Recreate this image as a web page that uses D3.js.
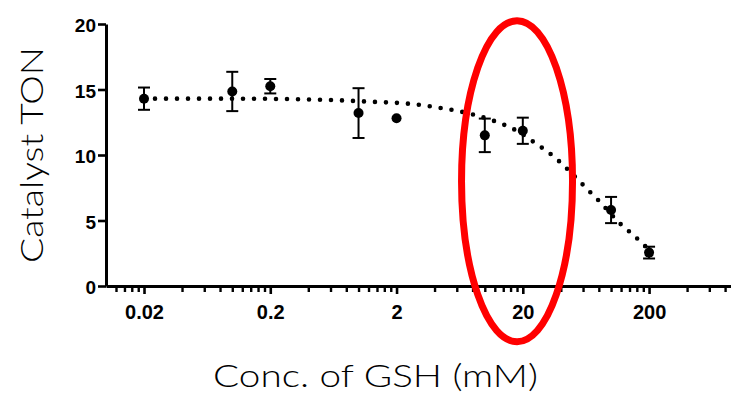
<!DOCTYPE html>
<html>
<head>
<meta charset="utf-8">
<script src="https://cdn.jsdelivr.net/npm/d3@7"></script>
<style>
  body { margin: 0; background: #fff; }
  svg { display: block; }
</style>
</head>
<body>
<div id="chart"></div>
<script>
// measured points
var conc = [0.02, 0.1, 0.2, 1, 2, 10, 20, 100, 200];
var ton = [14.3, 14.85, 15.25, 13.2, 12.8, 11.5, 11.85, 5.8, 2.55];
var err = [0.85, 1.5, 0.55, 1.9, 0, 1.28, 1.0, 1.0, 0.45];

// fitted curve
var fitConc = [0.02, 0.1, 0.5, 1.3, 2.4, 4.4, 8.1, 12, 18, 25, 36, 49, 67, 78, 122, 146, 175, 200];
var fitTon = [14.3, 14.3, 14.22, 14.06, 13.93, 13.6, 13.09, 12.58, 11.84, 10.92, 9.8, 8.58, 7.25, 6.62, 4.63, 3.99, 3.3, 2.75];

var xTicks = [0.02, 0.2, 2, 20, 200];
var xTickLabels = ["0.02", "0.2", "2", "20", "200"];
var yTicks = [0, 5, 10, 15, 20];

var W = 731, H = 394;

var svg = d3.select("#chart").append("svg")
  .attr("width", W)
  .attr("height", H);

var x = d3.scaleLog().domain([0.01, 891]).range([106, 731]);
var y = d3.scaleLinear().domain([0, 20]).range([286, 24]);

// minor ticks at 2,4,6,8... of each decade
var minor = [];
[0.002, 0.02, 0.2, 2, 20, 200].forEach(function(b) {
  for (var k = 1; k <= 9; k++) {
    var v = b * k;
    if (v > 0.0100001 && v < 891 && xTicks.indexOf(+v.toPrecision(6)) < 0) minor.push(v);
  }
});

svg.append("g")
  .attr("transform", "translate(0,286)")
  .call(d3.axisBottom(x).tickValues(minor).tickSize(6).tickSizeOuter(0).tickFormat(""))
  .call(function(g) {
    g.select(".domain").remove();
    g.selectAll("line").attr("stroke", "#000").attr("stroke-width", 2.4);
  });

var xAxis = svg.append("g")
  .attr("transform", "translate(0,286)")
  .call(d3.axisBottom(x).tickValues(xTicks).tickSize(8).tickSizeOuter(0)
    .tickFormat(function(d, i) { return xTickLabels[i]; }));
xAxis.select(".domain").attr("stroke", "#000").attr("stroke-width", 3);
xAxis.selectAll("line").attr("stroke", "#000").attr("stroke-width", 2.6);
xAxis.selectAll("text")
  .attr("y", 33).attr("dy", null)
  .attr("fill", "#000")
  .style("font-family", "'Liberation Sans', Arial, sans-serif")
  .style("font-weight", "bold")
  .style("font-size", "20px");

var yAxis = svg.append("g")
  .attr("transform", "translate(106,0)")
  .call(d3.axisLeft(y).tickValues(yTicks).tickSize(8).tickPadding(2).tickSizeOuter(0));
yAxis.select(".domain").attr("stroke", "#000").attr("stroke-width", 3);
yAxis.selectAll("line").attr("stroke", "#000").attr("stroke-width", 2.6);
yAxis.selectAll("text")
  .attr("dy", "0.42em")
  .attr("fill", "#000")
  .style("font-family", "'Liberation Sans', Arial, sans-serif")
  .style("font-weight", "bold")
  .style("font-size", "19px");

// dotted fit line
var fit = fitConc.map(function(c, i) { return [c, fitTon[i]]; });
svg.append("path")
  .datum(fit)
  .attr("fill", "none")
  .attr("stroke", "#000")
  .attr("stroke-width", 4.6)
  .attr("stroke-linecap", "round")
  .attr("stroke-dasharray", "0 11")
  .attr("d", d3.line()
    .x(function(d) { return x(d[0]); })
    .y(function(d) { return y(d[1]); })
    .curve(d3.curveMonotoneX));

// error bars + points
var pts = conc.map(function(c, i) { return { c: c, t: ton[i], e: err[i] }; });
var eb = svg.append("g").attr("stroke", "#000").attr("stroke-width", 2);
pts.filter(function(d) { return d.e > 0; }).forEach(function(d) {
  var cx = x(d.c);
  eb.append("line").attr("x1", cx).attr("x2", cx).attr("y1", y(d.t - d.e)).attr("y2", y(d.t + d.e));
  eb.append("line").attr("x1", cx - 6).attr("x2", cx + 6).attr("y1", y(d.t + d.e)).attr("y2", y(d.t + d.e));
  eb.append("line").attr("x1", cx - 6).attr("x2", cx + 6).attr("y1", y(d.t - d.e)).attr("y2", y(d.t - d.e));
});
svg.append("g").selectAll("circle")
  .data(pts)
  .join("circle")
  .attr("cx", function(d) { return x(d.c); })
  .attr("cy", function(d) { return y(d.t); })
  .attr("r", 5)
  .attr("fill", "#000");

// axis titles
svg.append("text")
  .attr("x", 375.5).attr("y", 387)
  .attr("text-anchor", "middle")
  .attr("textLength", 325).attr("lengthAdjust", "spacingAndGlyphs")
  .style("font-family", "Lato, 'Noto Sans', sans-serif")
  .style("font-weight", 300)
  .style("font-size", "32px")
  .attr("fill", "#000")
  .text("Conc. of GSH (mM)");

svg.append("text")
  .attr("transform", "translate(43,155) rotate(-90)")
  .attr("text-anchor", "middle")
  .attr("textLength", 216).attr("lengthAdjust", "spacingAndGlyphs")
  .style("font-family", "Lato, 'Noto Sans', sans-serif")
  .style("font-weight", 300)
  .style("font-size", "32px")
  .attr("fill", "#000")
  .text("Catalyst TON");

// red highlight ellipse
svg.append("ellipse")
  .attr("cx", x(18))
  .attr("cy", y(8))
  .attr("rx", 55.5)
  .attr("ry", 160.5)
  .attr("fill", "none")
  .attr("stroke", "#f00")
  .attr("stroke-width", 7);
</script>
</body>
</html>
